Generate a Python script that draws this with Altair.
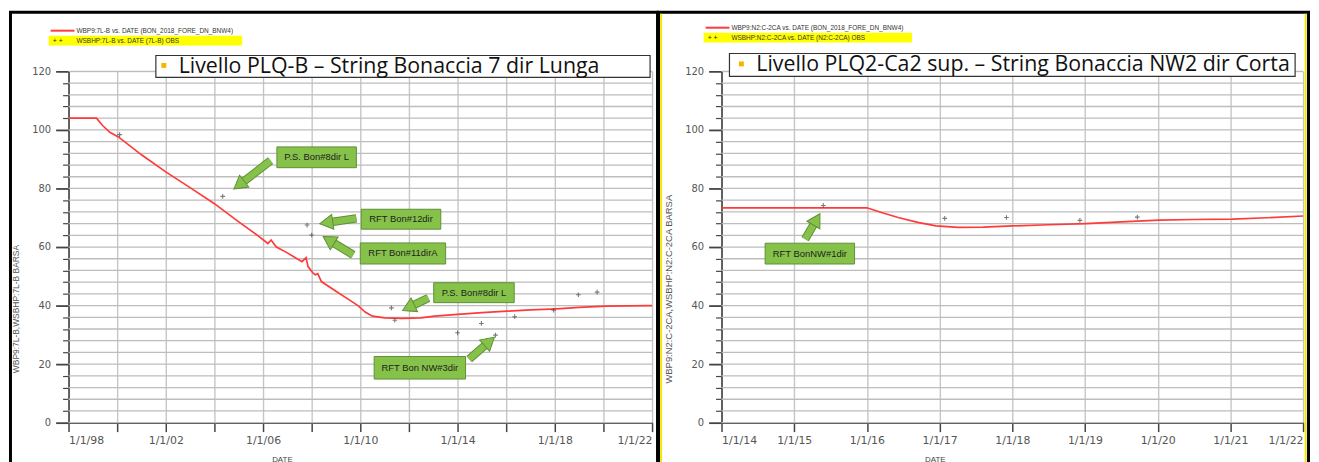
import math
import altair as alt
import pandas as pd

# ---------------- data: left panel (String Bonaccia 7 dir Lunga) ----------------
left_line_year = [1998.0, 1999.15, 1999.4, 1999.7, 2000.05, 2001.0, 2002.03, 2003.0, 2004.0, 2005.0,
                  2005.8, 2006.2, 2006.33, 2006.55, 2007.0, 2007.6, 2007.77, 2007.85, 2008.05, 2008.15,
                  2008.25, 2008.4, 2009.0, 2009.5, 2009.92, 2010.2, 2010.5, 2011.0, 2011.7, 2012.5,
                  2013.05, 2014.0, 2015.0, 2016.04, 2017.0, 2018.08, 2019.0, 2020.1, 2021.0, 2022.0]
left_line_val = [104.0, 104.0, 101.5, 99.2, 97.6, 91.5, 85.5, 80.3, 74.8, 68.6,
                 63.8, 61.2, 62.4, 60.0, 58.0, 55.0, 56.4, 53.3, 51.2, 50.5,
                 50.9, 48.2, 44.9, 42.2, 39.9, 37.8, 36.4, 35.8, 35.6, 35.8,
                 36.4, 37.0, 37.6, 38.1, 38.5, 38.9, 39.4, 39.8, 39.9, 40.0]
left_obs_year = [2000.1, 2004.34, 2007.81, 2008.0, 2011.28, 2011.42, 2014.0, 2014.98, 2015.56,
                 2016.35, 2017.95, 2018.97, 2019.74]
left_obs_val = [98.4, 77.3, 67.5, 64.1, 39.2, 35.0, 30.7, 33.9, 29.9, 36.2, 38.4, 43.7, 44.6]

left_note_text = ["P.S. Bon#8dir L", "RFT Bon#12dir", "RFT Bon#11dirA", "P.S. Bon#8dir L", "RFT Bon NW#3dir"]
left_note_x1 = [2006.57, 2010.04, 2010.0, 2013.02, 2010.57]
left_note_x2 = [2009.84, 2013.31, 2013.51, 2016.33, 2014.33]
left_note_y1 = [87.1, 66.1, 54.2, 41.0, 14.9]
left_note_y2 = [94.2, 72.9, 61.4, 47.8, 22.6]
left_arrow_tail_x = [2006.31, 2009.84, 2009.71, 2012.80, 2014.48]
left_arrow_tail_y = [89.5, 69.8, 57.3, 42.6, 21.7]
left_arrow_head_x = [2004.82, 2008.36, 2008.49, 2011.76, 2015.50]
left_arrow_head_y = [79.9, 68.0, 63.5, 38.4, 29.1]

# ---------------- data: right panel (String Bonaccia NW2 dir Corta) ----------------
right_line_year = [2014.0, 2016.0, 2016.2, 2016.43, 2016.7, 2016.95, 2017.26, 2017.6, 2018.0,
                   2018.5, 2019.01, 2019.5, 2020.02, 2020.5, 2021.03, 2021.5, 2022.0]
right_line_val = [73.4, 73.4, 71.8, 70.1, 68.4, 67.2, 66.7, 66.8, 67.2,
                  67.6, 68.0, 68.6, 69.2, 69.4, 69.5, 70.0, 70.6]
right_obs_year = [2015.4, 2017.07, 2017.92, 2018.93, 2019.72]
right_obs_val = [74.2, 69.8, 70.1, 69.1, 70.2]

right_note_text = ["RFT BonNW#1dir"]
right_note_x1 = [2014.6]
right_note_x2 = [2015.83]
right_note_y1 = [54.2]
right_note_y2 = [61.3]
right_arrow_tail_x = [2015.15]
right_arrow_tail_y = [62.7]
right_arrow_head_x = [2015.35]
right_arrow_head_y = [71.2]

# shared y gridline / tick values (BARSA)
y_tick_values = list(range(0, 121, 4))

# ---------------- styling ----------------
FONT = "DejaVu Sans"
SANS = "Liberation Sans"
TITLE_FONT = "Open Sans"
GREEN = "#86c24a"
GREEN_DARK = "#5f9036"
RED = "#ff3a3a"
W_PLOT_L, W_PLOT_R, H_PLOT = 588, 586, 354

one = pd.DataFrame({"k": [0]})


def fixed_rect(x, x2, y, y2, **kw):
    return alt.Chart(one).mark_rect(**kw).encode(
        x=alt.value(x), x2=alt.value(x2), y=alt.value(y), y2=alt.value(y2))


def fixed_text(x, y, txt, **kw):
    return alt.Chart(one).mark_text(**kw).encode(
        x=alt.value(x), y=alt.value(y), text=alt.value(txt))


def fixed_hline(x, x2, y, **kw):
    return alt.Chart(one).mark_rule(**kw).encode(
        x=alt.value(x), x2=alt.value(x2), y=alt.value(y))


def fixed_vline(x, y, y2, **kw):
    return alt.Chart(one).mark_rule(**kw).encode(
        x=alt.value(x), y=alt.value(y), y2=alt.value(y2))


def panel(line_year, line_val, obs_year, obs_val, note_text, nx1, nx2, ny1, ny2,
          tx, ty, hx, hy, dom, tick_vals, label_test, width, legend1, legend2, ytitle,
          ytitle_size, ytitle_x, ytitle_y, lg, box, title_txt, frame_left, yellow_edges):
    xscale = alt.Scale(domain=dom, nice=False, zero=False)
    yscale = alt.Scale(domain=[0, 120], nice=False)
    label_expr = ("(" + label_test + ") ? '1/1/' + (datum.value % 100 < 10 ? '0' : '') + "
                  "(datum.value % 100) : ''")
    xaxis = alt.Axis(values=tick_vals, tickCount=200, labelExpr=label_expr, labelFlush=True,
                     labelOverlap=False,
                     tickSize=9, tickWidth=1.5, tickColor="#444", domainColor="#444", domainWidth=1.6,
                     labelFont=FONT, labelFontSize=11, labelColor="#555", labelPadding=3,
                     gridColor="#c6c6c6", gridWidth=1.4, title="DATE", titleFont=SANS,
                     titleFontSize=8, titleFontWeight="normal", titleColor="#444",
                     titleX=215, titleY=39, titleAlign="center", titleBaseline="alphabetic")
    yaxis = alt.Axis(values=y_tick_values, tickCount=200,
                     labelExpr="datum.value % 20 == 0 ? '' + datum.value : ''",
                     labelOverlap=False, grid=False,
                     tickSize={"condition": {"test": "datum.value % 20 != 0", "value": 6}, "value": 13},
                     tickWidth={"condition": {"test": "datum.value % 20 != 0", "value": 1.2}, "value": 1.8},
                     tickColor="#444", domainColor="#444", domainWidth=1.6,
                     labelFont=FONT, labelFontSize=10, labelColor="#555", labelPadding=5,
                     title=ytitle, titleFont=SANS,
                     titleFontSize=ytitle_size, titleFontWeight="normal", titleColor="#555",
                     titleX=ytitle_x, titleY=ytitle_y, titleAngle=270, titleAlign="center",
                     titleBaseline="alphabetic")

    # panel frame (also pins the layout origin)
    frame = fixed_rect(frame_left, width + 5.5, -59.5, 420, fill="#ffffff", fillOpacity=0,
                       stroke="#000000", strokeWidth=3)
    extras = []
    if yellow_edges:
        extras = [fixed_vline(frame_left + 2.6, -58, 420, color="#f2e600", strokeWidth=2),
                  fixed_vline(width + 2.6, -58, 420, color="#f2e600", strokeWidth=2)]

    # horizontal gridlines
    hgrid = alt.Chart(pd.DataFrame({"g": y_tick_values})).mark_rule(
        color="#bdbdbd", strokeWidth=1.3).encode(
        y=alt.Y("g:Q", scale=yscale, axis=yaxis), x=alt.value(0), x2=alt.value(width))

    line_df = pd.DataFrame({"year": line_year, "val": line_val})
    obs_df = pd.DataFrame({"year": obs_year, "val": obs_val})

    base_line = alt.Chart(line_df).mark_line(color=RED, strokeWidth=1.7).encode(
        x=alt.X("year:Q", scale=xscale, axis=xaxis),
        y=alt.Y("val:Q", scale=yscale, axis=yaxis))

    obs = alt.Chart(obs_df).mark_point(shape="M-1,0H1M0,-1V1", size=22, filled=False,
                                       stroke="#444", strokeWidth=1.1).encode(
        x=alt.X("year:Q", scale=xscale), y=alt.Y("val:Q", scale=yscale))

    # annotation boxes
    notes = pd.DataFrame({"x1": nx1, "x2": nx2, "y1": ny1, "y2": ny2, "t": note_text,
                          "xc": [(a + b) / 2 for a, b in zip(nx1, nx2)],
                          "yc": [(a + b) / 2 for a, b in zip(ny1, ny2)]})
    note_rects = alt.Chart(notes).mark_rect(fill=GREEN, stroke=GREEN_DARK, strokeWidth=1).encode(
        x=alt.X("x1:Q", scale=xscale), x2="x2:Q", y=alt.Y("y1:Q", scale=yscale), y2="y2:Q")
    note_texts = alt.Chart(notes).mark_text(font=SANS, fontSize=9.5, color="#1e1e1e").encode(
        x=alt.X("xc:Q", scale=xscale), y=alt.Y("yc:Q", scale=yscale), text="t:N")

    # arrows (shaft + head)
    kx = width / (dom[1] - dom[0])
    ky = H_PLOT / 120.0
    rows, heads = [], []
    for i, (a, b, c, d) in enumerate(zip(tx, ty, hx, hy)):
        dx = (c - a) * kx
        dy = -(d - b) * ky
        L = math.hypot(dx, dy)
        ux, uy = dx / L, dy / L
        back = 6.0
        nx_, ny_ = c - ux * back / kx, d + uy * back / ky
        ang = math.degrees(math.atan2(dx, -dy)) % 360
        rows.append({"id": i, "o": 0, "x": a, "y": b})
        rows.append({"id": i, "o": 1, "x": nx_, "y": ny_})
        heads.append({"x": nx_, "y": ny_, "ang": ang})
    arrow_df = pd.DataFrame(rows)
    head_df = pd.DataFrame(heads)
    shaft_dark = alt.Chart(arrow_df).mark_line(color=GREEN_DARK, strokeWidth=8.5, strokeCap="butt").encode(
        x=alt.X("x:Q", scale=xscale), y=alt.Y("y:Q", scale=yscale), detail="id:N", order="o:Q")
    shaft = alt.Chart(arrow_df).mark_line(color=GREEN, strokeWidth=6.5, strokeCap="butt").encode(
        x=alt.X("x:Q", scale=xscale), y=alt.Y("y:Q", scale=yscale), detail="id:N", order="o:Q")
    head = alt.Chart(head_df).mark_point(shape="triangle-up", size=230, filled=True, fill=GREEN,
                                         stroke=GREEN_DARK, strokeWidth=1, opacity=1).encode(
        x=alt.X("x:Q", scale=xscale), y=alt.Y("y:Q", scale=yscale), angle=alt.Angle("ang:Q", scale=None))

    # legend (top-left of panel)
    lx, ly = lg
    leg = [
        fixed_rect(lx - 2, lx + legend2[1], ly + 5, ly + 15, fill="#ffff00"),
        fixed_hline(lx, lx + 24, ly, color=RED, strokeWidth=2),
        fixed_text(lx + 26, ly, legend1, align="left", baseline="middle", font=SANS, fontSize=6.5,
                   color="#333"),
        fixed_text(lx + 2, ly + 10, "+  +", align="left", baseline="middle", font=SANS, fontSize=7,
                   color="#222"),
        fixed_text(lx + 26, ly + 10, legend2[0], align="left", baseline="middle", font=SANS,
                   fontSize=6.5, color="#333"),
    ]

    # title box
    bx1, bx2, by1, by2, bul_x, txt_x = box
    tbox = [
        fixed_rect(bx1, bx2, by1, by2, fill="#ffffff", stroke="#333333", strokeWidth=1.2),
        fixed_rect(bul_x - 2.5, bul_x + 2.5, (by1 + by2) / 2 - 3.5, (by1 + by2) / 2 + 1.5,
                   fill="#f7b500"),
        fixed_text(txt_x, (by1 + by2) / 2 + 0.5, title_txt, align="left", baseline="middle",
                   font=TITLE_FONT, fontSize=21.5, color="#111"),
    ]

    layers = ([frame] + extras + [hgrid, base_line, obs, note_rects, note_texts, shaft_dark, shaft, head]
              + leg + tbox)
    return alt.layer(*layers).properties(width=width, height=H_PLOT)


left = panel(left_line_year, left_line_val, left_obs_year, left_obs_val, left_note_text,
             left_note_x1, left_note_x2, left_note_y1, left_note_y2,
             left_arrow_tail_x, left_arrow_tail_y, left_arrow_head_x, left_arrow_head_y,
             [1998, 2022], list(range(1998, 2023, 2)), "(datum.value - 1998) % 4 == 0", W_PLOT_L,
             "WBP9:7L-B  vs.  DATE (BON_2018_FORE_DN_BNW4)",
             ("WSBHP:7L-B  vs.  DATE (7L-B) OBS", 193),
             "WBP9:7L-B,WSBHP:7L-B  BARSA", 8.5, -50, 239,
             (-18, -41), (88, 586, -16, 6, 96, 111),
             "Livello PLQ-B – String Bonaccia 7 dir Lunga", -58.5, False)

right = panel(right_line_year, right_line_val, right_obs_year, right_obs_val, right_note_text,
              right_note_x1, right_note_x2, right_note_y1, right_note_y2,
              right_arrow_tail_x, right_arrow_tail_y, right_arrow_head_x, right_arrow_head_y,
              [2014, 2022], list(range(2014, 2023, 1)), "true", W_PLOT_R,
              "WBP9:N2:C-2CA  vs.  DATE (BON_2018_FORE_DN_BNW4)",
              ("WSBHP:N2:C-2CA  vs.  DATE (N2:C-2CA) OBS", 208),
              "WBP9:N2:C-2CA,WSBHP:N2:C-2CA  BARSA", 9.5, -50, 219,
              (-16, -44), (8, 578, -18, 5, 20, 35),
              "Livello PLQ2-Ca2 sup. – String Bonaccia NW2 dir Corta", -63.5, True)

chart = alt.hconcat(left, right, spacing=70, bounds="flush").properties(
    padding=0
).configure_view(stroke=None).configure(background="#ffffff")

chart.save("out.html", embed_options={"renderer": "svg", "actions": False})
